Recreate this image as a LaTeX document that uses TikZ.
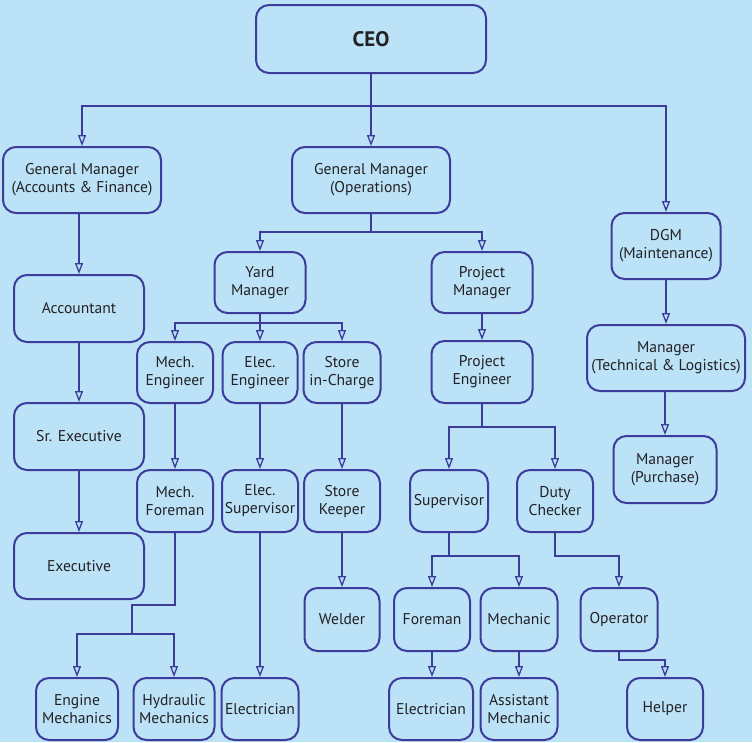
\documentclass[tikz,border=0pt]{standalone}
\usepackage{fontspec}
\setmainfont{PT Sans}
\usetikzlibrary{arrows.meta}
\definecolor{bgc}{RGB}{187,226,247}
\definecolor{lnc}{RGB}{60,60,155}
\definecolor{txc}{RGB}{35,33,35}
\tikzset{
  box/.style={draw=lnc, line width=2pt, rounded corners=13pt, fill=bgc,
    text=txc, align=center, inner sep=2pt,
    font=\fontsize{15.6}{18}\selectfont},
  ln/.style={draw=lnc, line width=1.8pt},
  arr/.style={ln, -{Triangle[open, length=11pt, width=8pt, line width=1.3pt]}},
}
\begin{document}
\begin{tikzpicture}[x=1pt,y=-1pt]
\fill[bgc] (0,0) rectangle (752,742);
\useasboundingbox (0,0) rectangle (752,742);
% nodes
\node[box, minimum width=230pt, minimum height=68pt, font=\fontsize{21}{24}\selectfont\bfseries] (ceo) at (371,39) {CEO};
\node[box, minimum width=158pt, minimum height=66pt] (gmaf) at (82,180) {General Manager\\(Accounts \& Finance)};
\node[box, minimum width=158pt, minimum height=66pt] (gmops) at (371,180) {General Manager\\(Operations)};
\node[box, minimum width=109pt, minimum height=66pt] (dgm) at (666,246) {DGM\\(Maintenance)};
\node[box, minimum width=130pt, minimum height=67pt] (acc) at (79,308.5) {Accountant};
\node[box, minimum width=130pt, minimum height=67pt] (srex) at (79,436.5) {Sr. Executive};
\node[box, minimum width=130pt, minimum height=66pt] (exec) at (79,566) {Executive};
\node[box, minimum width=91pt, minimum height=61pt] (yard) at (260,282.5) {Yard\\Manager};
\node[box, minimum width=101pt, minimum height=61pt] (pm) at (482,282.5) {Project\\Manager};
\node[box, minimum width=76pt, minimum height=61pt] (mte) at (175,372.5) {Mech.\\Engineer};
\node[box, minimum width=75pt, minimum height=61pt] (ele) at (260,372.5) {Elec.\\Engineer};
\node[box, minimum width=77pt, minimum height=61pt] (sto) at (342,372.5) {Store\\in-Charge};
\node[box, minimum width=101pt, minimum height=62pt] (pe) at (482,372) {Project\\Engineer};
\node[box, minimum width=158pt, minimum height=66pt] (mtl) at (666,358) {Manager\\(Technical \& Logistics)};
\node[box, minimum width=103pt, minimum height=67pt] (mpur) at (665,469.5) {Manager\\(Purchase)};
\node[box, minimum width=76pt, minimum height=62pt] (mfor) at (175,501) {Mech.\\Foreman};
\node[box, minimum width=76pt, minimum height=62pt] (esup) at (260,501) {Elec.\\Supervisor};
\node[box, minimum width=76pt, minimum height=62pt] (skeep) at (342,501) {Store\\Keeper};
\node[box, minimum width=78pt, minimum height=62pt] (sup) at (449,501) {Supervisor};
\node[box, minimum width=76pt, minimum height=62pt] (duty) at (555,501) {Duty\\Checker};
\node[box, minimum width=75pt, minimum height=63pt] (welder) at (342,619.5) {Welder};
\node[box, minimum width=76pt, minimum height=63pt] (foreman) at (432,619.5) {Foreman};
\node[box, minimum width=77pt, minimum height=63pt] (mech) at (519,619.5) {Mechanic};
\node[box, minimum width=77pt, minimum height=63pt] (oper) at (619,619.5) {Operator};
\node[box, minimum width=82pt, minimum height=62pt] (eng) at (77,709) {Engine\\Mechanics};
\node[box, minimum width=81pt, minimum height=62pt] (hyd) at (174,709) {Hydraulic\\Mechanics};
\node[box, minimum width=77pt, minimum height=62pt] (elec1) at (260,709) {Electrician};
\node[box, minimum width=84pt, minimum height=62pt] (elec2) at (431,709) {Electrician};
\node[box, minimum width=77pt, minimum height=62pt] (asst) at (519,709) {Assistant\\Mechanic};
\node[box, minimum width=76pt, minimum height=62pt] (helper) at (665,709) {Helper};
% junctions
\coordinate (j0) at (371,106);
\coordinate (j1) at (371,232);
\coordinate (j2) at (260,323);
\coordinate (j3a) at (175,605);
\coordinate (j3b) at (132,634);
\coordinate (j4) at (482,427);
\coordinate (j5) at (449,556);
\coordinate (j6) at (555,556);
\coordinate (j7) at (619,660);
% connectors
\draw[ln] (ceo.south) -- (j0);
\draw[arr] (j0) -| (gmaf.north);
\draw[arr] (j0) -- (gmops.north);
\draw[arr] (j0) -| (dgm.north);
\draw[arr] (gmaf.south -| acc.north) -- (acc.north);
\draw[arr] (acc.south) -- (srex.north);
\draw[arr] (srex.south) -- (exec.north);
\draw[ln] (gmops.south) -- (j1);
\draw[arr] (j1) -| (yard.north);
\draw[arr] (j1) -| (pm.north);
\draw[ln] (yard.south) -- (j2);
\draw[arr] (j2) -| (mte.north);
\draw[arr] (j2) -- (ele.north);
\draw[arr] (j2) -| (sto.north);
\draw[arr] (mte.south) -- (mfor.north);
\draw[arr] (ele.south) -- (esup.north);
\draw[arr] (sto.south) -- (skeep.north);
\draw[arr] (skeep.south) -- (welder.north);
\draw[arr] (esup.south) -- (elec1.north);
\draw[ln] (mfor.south) -- (j3a) -| (j3b);
\draw[arr] (j3b) -| (eng.north);
\draw[arr] (j3b) -| (hyd.north);
\draw[arr] (pm.south) -- (pe.north);
\draw[ln] (pe.south) -- (j4);
\draw[arr] (j4) -| (sup.north);
\draw[arr] (j4) -| (duty.north);
\draw[ln] (sup.south) -- (j5);
\draw[arr] (j5) -| (foreman.north);
\draw[arr] (j5) -| (mech.north);
\draw[arr] (duty.south) -- (j6) -| (oper.north);
\draw[arr] (foreman.south) -- (elec2.north -| foreman.south);
\draw[arr] (mech.south) -- (asst.north);
\draw[arr] (oper.south) -- (j7) -| (helper.north);
\draw[arr] (dgm.south) -- (mtl.north);
\draw[arr] (mtl.south -| mpur.north) -- (mpur.north);
\end{tikzpicture}
\end{document}
